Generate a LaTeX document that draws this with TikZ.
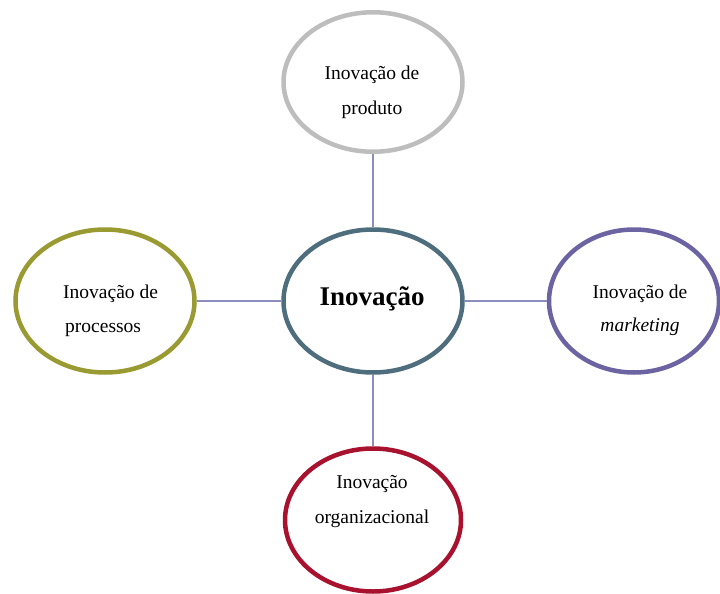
\documentclass[tikz,border=0pt]{standalone}
\usepackage{fontspec}
\setmainfont{Liberation Serif}
\usetikzlibrary{shapes.geometric}
\definecolor{ringgray}{HTML}{BDBDBD}
\definecolor{ringslate}{HTML}{4E6D7D}
\definecolor{ringolive}{HTML}{9A9A32}
\definecolor{ringpurple}{HTML}{6C64A2}
\definecolor{ringcrimson}{HTML}{A8122F}
\definecolor{linkline}{HTML}{8C8CBE}
\begin{document}
\begin{tikzpicture}[x=1pt,y=-1pt,
  ring/.style={ellipse,draw,line width=4.5pt,inner sep=0pt,fill=white,
    minimum width=#1},
  ring/.default=179pt,
  link/.style={draw=linkline,line width=1.3pt},
  lbl/.style={anchor=base,inner sep=0pt,font=\fontsize{19.5}{22}\selectfont},
  lblleft/.style={anchor=base west,inner sep=0pt,font=\fontsize{19.5}{22}\selectfont}]
\useasboundingbox (0,0) rectangle (720,594);
\clip (0,0) rectangle (720,594);

% ring nodes
\node[ring,draw=ringgray,minimum height=139.5pt] (prod) at (373,82) {};
\node[ring,draw=ringslate,minimum height=143pt] (core) at (373,301) {};
\node[ring,draw=ringolive,minimum height=143pt] (proc) at (105,301) {};
\node[ring=170pt,draw=ringpurple,minimum height=143pt] (mkt) at (634,301) {};
\node[ring=176pt,draw=ringcrimson,minimum height=143pt] (org) at (373,520) {};

% connectors between the central ring and the four outer rings
\draw[link] (prod.south) -- (core.north);
\draw[link] (proc.east) -- (core.west);
\draw[link] (core.east) -- (mkt.west);
\draw[link] (core.south) -- (org.north);

% labels
\node[lbl] (prodA) at (372,80) {Inovação de};
\node[lbl] (prodB) at (372,114) {produto};
\node[anchor=base,inner sep=0pt,font=\fontsize{27}{30}\selectfont\bfseries] (coreA) at (372,305) {Inovação};
\node[lblleft] (procA) at (63,298) {Inovação de};
\node[lblleft] (procB) at (65,332) {processos};
\node[lbl] (mktA) at (640,298) {Inovação de};
\node[lbl] (mktB) at (640,331) {\itshape marketing};
\node[lbl] (orgA) at (372,488) {Inovação};
\node[lbl] (orgB) at (372,523) {organizacional};
\end{tikzpicture}
\end{document}
